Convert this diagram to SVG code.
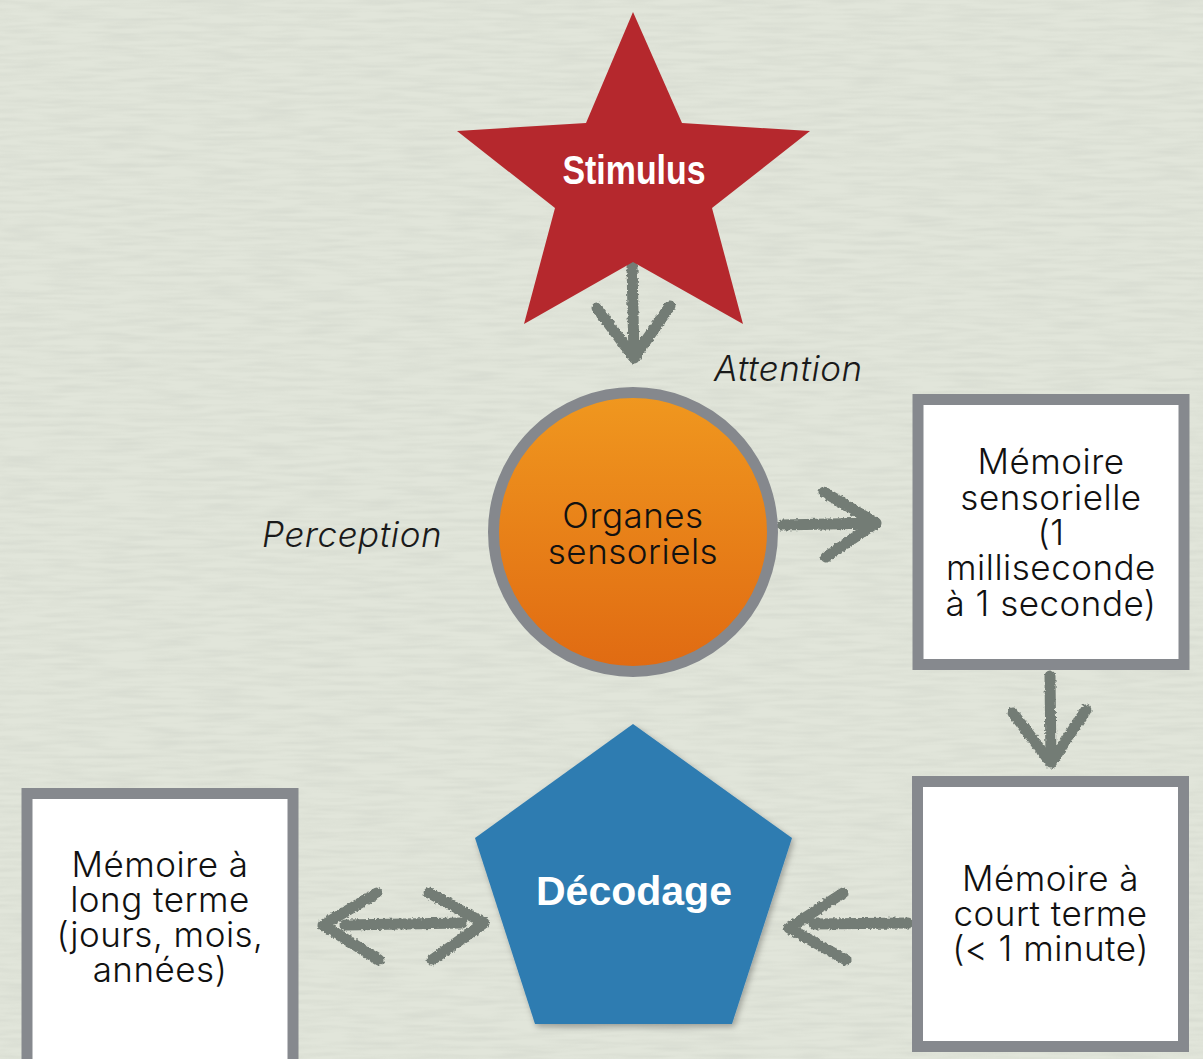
<svg xmlns="http://www.w3.org/2000/svg" width="1203" height="1059" viewBox="0 0 1203 1059">
  <defs>
    <style>
      .body { font-family: "Inter", "DejaVu Sans", sans-serif; font-weight: 300; font-size: 35px; letter-spacing: 0.5px; fill: #111; text-anchor: middle; }
      .note { font-family: "Inter", "DejaVu Sans", sans-serif; font-weight: 300; font-size: 35px; letter-spacing: 0.6px; font-style: italic; fill: #1a1a1a; }
      .box { fill: #ffffff; stroke: #86898e; stroke-width: 11; }
      .chalk { fill: none; stroke: #737c75; stroke-width: 11; stroke-linecap: round; stroke-linejoin: round; filter: url(#rough); }
    </style>
    <linearGradient id="orange" x1="0" y1="0" x2="0" y2="1">
      <stop offset="0" stop-color="#f0981f"/>
      <stop offset="1" stop-color="#e06a12"/>
    </linearGradient>
    <!-- roughened edge for the chalk strokes -->
    <filter id="rough" x="-20%" y="-20%" width="140%" height="140%">
      <feTurbulence type="fractalNoise" baseFrequency="0.35" numOctaves="2" seed="4" result="n"/>
      <feDisplacementMap in="SourceGraphic" in2="n" scale="4" xChannelSelector="R" yChannelSelector="G"/>
    </filter>
    <!-- faint horizontal paper grain -->
    <filter id="grain" x="0" y="0" width="100%" height="100%">
      <feTurbulence type="fractalNoise" baseFrequency="0.02 0.22" numOctaves="2" seed="7"/>
      <feColorMatrix type="matrix" values="0 0 0 0 0.55  0 0 0 0 0.58  0 0 0 0 0.52  0 0 0 -1.6 1.05"/>
    </filter>
    <filter id="shadow" x="-10%" y="-10%" width="125%" height="125%">
      <feDropShadow dx="2" dy="3" stdDeviation="3" flood-color="#000" flood-opacity="0.3"/>
    </filter>
  </defs>

  <!-- paper background -->
  <rect width="1203" height="1059" fill="#e1e5da"/>
  <rect width="1203" height="1059" filter="url(#grain)" opacity="0.35"/>

  <!-- connectors -->
  <g id="connectors">
    <!-- Stimulus to Organes -->
    <path class="chalk" d="M632 266 L634 358 M597 308 L634 358 L670 306"/>
    <!-- Organes to Mémoire sensorielle -->
    <path class="chalk" d="M782 525 L876 523 M824 492 L876 523 L826 557"/>
    <!-- Mémoire sensorielle to court terme -->
    <path class="chalk" d="M1050 676 L1051 763 M1013 713 L1051 763 L1086 710"/>
    <!-- court terme to Décodage -->
    <path class="chalk" d="M908 923 L814 924 M843 893 L789 928 L846 960"/>
    <!-- Décodage to long terme, both ways -->
    <path class="chalk" d="M345 925 L462 923 M377 893 L323 925 L379 960 M429 893 L484 923 L432 960"/>
  </g>

  <!-- Stimulus -->
  <g id="stimulus">
    <polygon points="633,12 682,123 810,131 712,208 743,324 633,262 524,324 555,208 457,131 586,123" fill="#b5282d"/>
    <text x="634" y="184" font-family="'Liberation Sans', sans-serif" font-weight="bold" font-size="40" fill="#ffffff" text-anchor="middle" textLength="143" lengthAdjust="spacingAndGlyphs">Stimulus</text>
  </g>

  <!-- Attention / Perception labels -->
  <g id="labels">
    <text class="note" x="714" y="381">Attention</text>
    <text class="note" x="262" y="547">Perception</text>
  </g>

  <!-- Organes sensoriels -->
  <g id="organes">
    <circle cx="633" cy="532" r="139.5" fill="url(#orange)" stroke="#85888d" stroke-width="11"/>
    <text class="body" x="633" y="528">Organes</text>
    <text class="body" x="633" y="564">sensoriels</text>
  </g>

  <!-- Mémoire sensorielle -->
  <g id="memoire-sensorielle">
    <rect class="box" x="918" y="399.5" width="266" height="265"/>
    <text class="body" x="1051" y="474">Mémoire</text>
    <text class="body" x="1051" y="509.5">sensorielle</text>
    <text class="body" x="1051" y="545">(1</text>
    <text class="body" x="1051" y="580">milliseconde</text>
    <text class="body" x="1051" y="615.5">à 1 seconde)</text>
  </g>

  <!-- Mémoire à court terme -->
  <g id="memoire-court-terme">
    <rect class="box" x="917.5" y="781.5" width="266" height="265"/>
    <text class="body" x="1050.5" y="890.5">Mémoire à</text>
    <text class="body" x="1050.5" y="925.5">court terme</text>
    <text class="body" x="1050.5" y="960.5">(&lt; 1 minute)</text>
  </g>

  <!-- Décodage -->
  <g id="decodage">
    <polygon points="633,724 792,838 732,1024 535,1024 475,838" fill="#2e7bb1" filter="url(#shadow)"/>
    <text x="634" y="905" font-family="'Liberation Sans', sans-serif" font-weight="bold" font-size="41" fill="#ffffff" text-anchor="middle">Décodage</text>
  </g>

  <!-- Mémoire à long terme -->
  <g id="memoire-long-terme">
    <rect class="box" x="27" y="793.5" width="266" height="272"/>
    <text class="body" x="160" y="877">Mémoire à</text>
    <text class="body" x="160" y="912">long terme</text>
    <text class="body" x="160" y="947">(jours, mois,</text>
    <text class="body" x="160" y="982">années)</text>
  </g>
</svg>
